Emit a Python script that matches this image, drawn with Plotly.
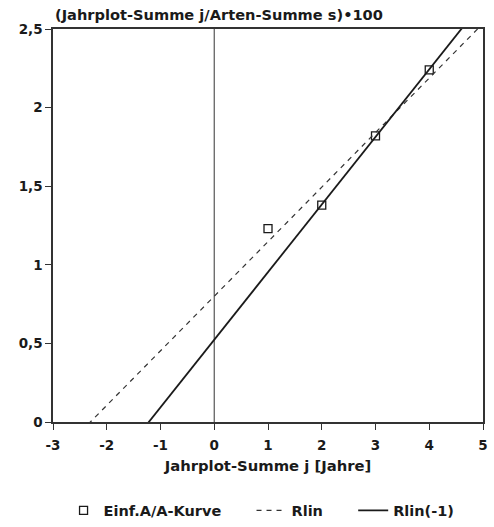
import numpy as np
import plotly.graph_objects as go

# Jahrplot-Summe j [Jahre] and the ratio (Jahrplot-Summe j / Arten-Summe s)*100
jahre = [1, 2, 3, 4]
quote = [1.23, 1.38, 1.82, 2.24]

x_ticks = [-3, -2, -1, 0, 1, 2, 3, 4, 5]
x_ticktext = ["-3", "-2", "-1", "0", "1", "2", "3", "4", "5"]
y_ticks = [0, 0.5, 1, 1.5, 2, 2.5]
y_ticktext = ["0", "0,5", "1", "1,5", "2", "2,5"]

# Regression lines: over all points (Rlin) and without the first point (Rlin(-1))
slope_all, icpt_all = np.polyfit(jahre, quote, 1)
slope_m1, icpt_m1 = np.polyfit(jahre[1:], quote[1:], 1)
x_line = np.array([-3.0, 5.0])

FONT = "DejaVu Sans, Verdana, sans-serif"
INK = "#1a1a1a"
PAD = "\u00a0" * 5  # extra room between legend entries

fig = go.Figure()

fig.add_trace(go.Scatter(
    x=jahre, y=quote, mode="markers", name="Einf.A/A-Kurve" + PAD,
    marker=dict(symbol="square-open", size=8, color=INK, line=dict(width=1.3, color=INK)),
))
fig.add_trace(go.Scatter(
    x=x_line, y=slope_all * x_line + icpt_all, mode="lines", name="Rlin" + PAD,
    line=dict(color="#333333", width=1.2, dash="5px,5px"),
))
fig.add_trace(go.Scatter(
    x=x_line, y=slope_m1 * x_line + icpt_m1, mode="lines", name="Rlin(-1)",
    line=dict(color=INK, width=1.8),
))

# vertical reference line at x = 0
fig.add_shape(type="line", x0=0, x1=0, y0=0, y1=2.5, xref="x", yref="y",
              line=dict(color="#555555", width=1.2), layer="below")

fig.update_layout(
    width=494, height=527,
    margin=dict(l=53, r=11, t=29, b=105, autoexpand=False),
    paper_bgcolor="white", plot_bgcolor="white",
    font=dict(family=FONT, size=13, color=INK),
    showlegend=True,
    legend=dict(
        orientation="h", x=0.485, xanchor="center", y=-0.225, yanchor="middle",
        font=dict(family=FONT, size=14.5, color=INK, weight="bold"),
        itemwidth=30, tracegroupgap=0,
    ),
    xaxis=dict(
        range=[-3, 5], tickvals=x_ticks, ticktext=x_ticktext, ticks="outside",
        ticklen=6, tickwidth=1.2, tickcolor="#333333", showgrid=False, zeroline=False,
        showline=True, linecolor="#333333", linewidth=1.5, mirror=True, automargin=False,
        ticklabelstandoff=4,
        tickfont=dict(family=FONT, size=13.5, color=INK, weight="bold"),
        title=dict(text="Jahrplot-Summe j [Jahre]", standoff=9,
                   font=dict(family=FONT, size=14.8, color=INK, weight="bold")),
    ),
    yaxis=dict(
        range=[0, 2.5], tickvals=y_ticks, ticktext=y_ticktext, ticks="outside",
        ticklen=6, tickwidth=1.2, tickcolor="#333333", showgrid=False, zeroline=False,
        showline=True, linecolor="#333333", linewidth=1.5, mirror=True, automargin=False,
        tickfont=dict(family=FONT, size=13.5, color=INK, weight="bold"),
    ),
    annotations=[dict(
        text="(Jahrplot-Summe j/Arten-Summe s)•100", xref="paper", yref="paper",
        x=0, y=1.036, xanchor="left", yanchor="middle", showarrow=False,
        font=dict(family=FONT, size=14.6, color=INK, weight="bold"),
    )],
)

fig.write_html("out.html")
